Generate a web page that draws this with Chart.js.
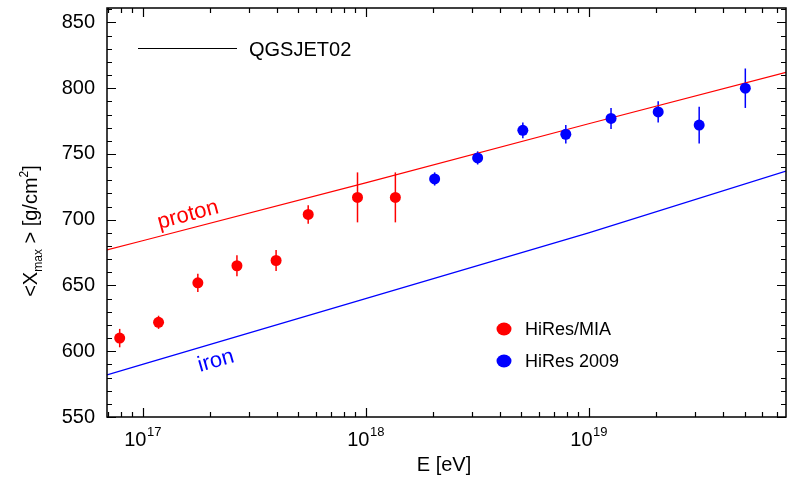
<!DOCTYPE html>
<html><head><meta charset="utf-8">
<script src="https://cdn.jsdelivr.net/npm/chart.js@4/dist/chart.umd.min.js"></script>
<style>html,body{margin:0;padding:0;background:#fff;overflow:hidden}#wrap{width:787px;height:480px;position:relative}</style>
</head><body>
<div id="wrap"><canvas id="c"></canvas></div>
<script>
// ---- data ----
const miaE   = [7.9e16, 1.18e17, 1.77e17, 2.65e17, 3.97e17, 5.53e17, 9.2e17, 1.36e18];
const miaX   = [610, 622, 652, 665, 669, 704, 717, 717];
const miaErr = [7, 5, 7, 8, 8, 7, 19, 19];
const hiresE   = [2.04e18, 3.18e18, 5.07e18, 7.9e18, 1.26e19, 2.05e19, 3.13e19, 5.04e19];
const hiresX   = [731, 747, 768, 765, 777, 782, 772, 800];
const hiresErr = [5, 5, 6, 7, 8, 8, 14, 15];
const modelE  = [6.93e16, 1e17, 1e18, 1e19, 7.67e19];
const protonX = [677, 684, 728, 773, 812];
const ironX   = [582, 590, 640, 690, 737];
const xDecades = [17, 18, 19];
const yMin = 550, yMax = 861, yStep = 50, yMinorStep = 10;
const xMin = 6.93e16, xMax = 7.67e19;

const FONT = '"Liberation Sans", Arial, Helvetica, sans-serif';
const RED = '#ff0000', BLUE = '#0000ff';

const pts = (xs, ys) => xs.map((x, i) => ({x, y: ys[i]}));
const noPad = s => { s.paddingTop = 0; s.paddingBottom = 0; s.paddingLeft = 0; s.paddingRight = 0; };

const deco = {
  id: 'deco',
  beforeDatasetsDraw(chart) {
    const {ctx, scales: {x, y}} = chart;
    ctx.save();
    ctx.lineWidth = 1.5;
    const bars = [[miaE, miaX, miaErr, RED], [hiresE, hiresX, hiresErr, BLUE]];
    for (const [es, vs, errs, col] of bars) {
      ctx.strokeStyle = col;
      es.forEach((e, i) => {
        const px = x.getPixelForValue(e);
        ctx.beginPath();
        ctx.moveTo(px, y.getPixelForValue(vs[i] - errs[i]));
        ctx.lineTo(px, y.getPixelForValue(vs[i] + errs[i]));
        ctx.stroke();
      });
    }
    ctx.restore();
  },
  afterDraw(chart) {
    const {ctx, chartArea: a, scales: {x, y}} = chart;
    ctx.save();
    // frame
    ctx.strokeStyle = '#000';
    ctx.lineWidth = 1.5;
    ctx.strokeRect(a.left, a.top, a.right - a.left, a.bottom - a.top);
    // y ticks (inward, both sides)
    ctx.lineWidth = 1.2;
    ctx.beginPath();
    for (let v = yMin; v <= yMax; v += yMinorStep) {
      const py = Math.round(y.getPixelForValue(v)) + 0.5;
      const len = (v % yStep === 0) ? 9 : 5;
      ctx.moveTo(a.left, py); ctx.lineTo(a.left + len, py);
      ctx.moveTo(a.right, py); ctx.lineTo(a.right - len, py);
    }
    // x ticks (inward, bottom and top)
    for (let d = 16; d <= 19; d++) {
      for (let k = 1; k <= 9; k++) {
        const e = k * Math.pow(10, d);
        if (e < xMin || e > xMax) continue;
        const px = Math.round(x.getPixelForValue(e)) + 0.5;
        const len = k === 1 ? 9 : 5;
        ctx.moveTo(px, a.bottom); ctx.lineTo(px, a.bottom - len);
        ctx.moveTo(px, a.top); ctx.lineTo(px, a.top + len);
      }
    }
    ctx.stroke();

    ctx.fillStyle = '#000';
    ctx.textBaseline = 'alphabetic';
    // x tick labels 10^n
    for (const d of xDecades) {
      const px = x.getPixelForValue(Math.pow(10, d));
      ctx.font = '20px ' + FONT;
      const w1 = ctx.measureText('10').width;
      ctx.font = '13px ' + FONT;
      const w2 = ctx.measureText(String(d)).width;
      const x0 = px - (w1 + w2) / 2;
      ctx.font = '20px ' + FONT;
      ctx.textAlign = 'left';
      ctx.fillText('10', x0, 446);
      ctx.font = '13px ' + FONT;
      ctx.fillText(String(d), x0 + w1 + 0.5, 436);
    }
    // x axis title
    ctx.font = '20px ' + FONT;
    ctx.textAlign = 'center';
    ctx.fillText('E [eV]', 444, 471);

    // y axis title with sub/superscript
    const parts = [
      ['<X', 20, 0], ['max', 12, 5], [' > [g/cm', 20, 0], ['2', 12, -9], [']', 20, 0]
    ];
    let total = 0;
    for (const [t, s] of parts) { ctx.font = s + 'px ' + FONT; total += ctx.measureText(t).width; }
    ctx.translate(37, 231);
    ctx.rotate(-Math.PI / 2);
    ctx.textAlign = 'left';
    let cx = -total / 2;
    for (const [t, s, off] of parts) {
      ctx.font = s + 'px ' + FONT;
      ctx.fillText(t, cx, off);
      cx += ctx.measureText(t).width;
    }
    ctx.setTransform(1, 0, 0, 1, 0, 0);

    // legend: model line
    ctx.strokeStyle = '#000';
    ctx.lineWidth = 1;
    ctx.beginPath(); ctx.moveTo(138, 48.5); ctx.lineTo(237, 48.5); ctx.stroke();
    ctx.font = '20px ' + FONT;
    ctx.textAlign = 'left';
    ctx.fillText('QGSJET02', 249, 56);

    // legend: data markers
    const leg = [[RED, 329, 'HiRes/MIA', 335], [BLUE, 361, 'HiRes 2009', 367]];
    ctx.font = '18px ' + FONT;
    for (const [col, my, txt, by] of leg) {
      ctx.fillStyle = col;
      ctx.beginPath(); ctx.ellipse(504, my, 7.5, 6.5, 0, 0, Math.PI * 2); ctx.fill();
      ctx.fillStyle = '#000';
      ctx.fillText(txt, 525, by);
    }

    // curve labels
    const lab = (txt, col, px, py, ang) => {
      ctx.save();
      ctx.translate(px, py); ctx.rotate(ang * Math.PI / 180);
      ctx.fillStyle = col; ctx.font = '22px ' + FONT;
      ctx.textAlign = 'center'; ctx.textBaseline = 'middle';
      ctx.fillText(txt, 0, 0);
      ctx.restore();
    };
    lab('proton', RED, 188, 215, -15);
    lab('iron', BLUE, 216, 361, -16);
    ctx.restore();
  }
};

new Chart(document.getElementById('c'), {
  type: 'scatter',
  data: {
    datasets: [
      {label: 'HiRes/MIA', data: pts(miaE, miaX), backgroundColor: RED, borderColor: RED, pointRadius: 5.5, pointBorderWidth: 0},
      {label: 'HiRes 2009', data: pts(hiresE, hiresX), backgroundColor: BLUE, borderColor: BLUE, pointRadius: 5.5, pointBorderWidth: 0},
      {label: 'proton', data: pts(modelE, protonX), showLine: true, borderColor: RED, borderWidth: 1.2, pointRadius: 0, fill: false},
      {label: 'iron', data: pts(modelE, ironX), showLine: true, borderColor: BLUE, borderWidth: 1.2, pointRadius: 0, fill: false}
    ]
  },
  options: {
    responsive: true,
    maintainAspectRatio: false,
    animation: false,
    devicePixelRatio: 1,
    layout: {autoPadding: false, padding: {top: 8, right: 1, left: 0, bottom: 0}},
    plugins: {legend: {display: false}, tooltip: {enabled: false}},
    scales: {
      x: {
        type: 'logarithmic', min: xMin, max: xMax,
        ticks: {display: false},
        grid: {display: false, drawTicks: false},
        border: {display: false},
        afterFit(s) { s.height = 63; noPad(s); }
      },
      y: {
        min: yMin, max: yMax,
        ticks: {stepSize: yStep, includeBounds: false, padding: 12, color: '#000', font: {family: FONT, size: 20}},
        grid: {display: false, drawTicks: false},
        border: {display: false},
        afterFit(s) { s.width = 107; noPad(s); }
      }
    }
  },
  plugins: [deco]
});
</script>
</body></html>
